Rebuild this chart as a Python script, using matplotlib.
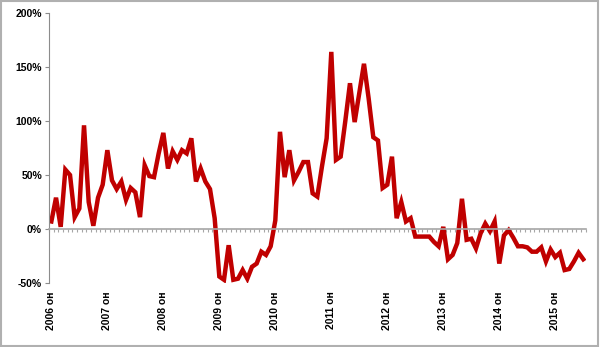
import numpy as np
import matplotlib
matplotlib.use("Agg")
import matplotlib.pyplot as plt
from matplotlib.ticker import FuncFormatter

# monthly values, Jan 2006 .. Jul 2015 (percent)
values = [
    7, 29, 2, 55, 50, 11, 19, 96, 25, 3, 29, 41,
    73, 45, 37, 44, 27, 38, 34, 11, 59, 49, 48, 70,
    89, 56, 72, 64, 73, 70, 84, 44, 56, 44, 37, 10,
    -44, -47, -15, -47, -46, -38, -46, -35, -32, -21, -24, -16,
    8, 90, 48, 73, 45, 53, 62, 62, 33, 30, 58, 84,
    164, 64, 67, 100, 135, 99, 126, 153, 121, 85, 82, 38,
    41, 67, 10, 25, 7, 10, -7, -7, -7, -7, -12, -16,
    2, -28, -24, -13, 28, -10, -9, -18, -4, 5, -2, 7,
    -32, -6, -1, -8, -16, -16, -17, -21, -21, -17, -30, -19,
    -26, -22, -38, -37, -30, -22, -28,
]
years = list(range(2006, 2016))
year_labels = [f"{y} он" for y in years]
y_ticks = [-50, 0, 50, 100, 150, 200]

plt.rcParams['font.family'] = ['Liberation Sans', 'DejaVu Sans']

fig = plt.figure(figsize=(6.0, 3.47), dpi=100)
ax = fig.add_axes([0.0817, 0.1844, 0.8943, 0.7781])

x = np.arange(len(values))
ax.plot(x, values, color='#c00000', lw=3.2, solid_joinstyle='miter')

ax.set_xlim(-0.5, len(values) - 0.5)
ax.set_ylim(-50, 200)

# axes look
for s in ('top', 'right'):
    ax.spines[s].set_visible(False)
ax.spines['left'].set_color('#8c8c8c')
ax.spines['bottom'].set_position(('data', 0))
ax.spines['bottom'].set_color('#a6a6a6')
ax.spines['bottom'].set_linewidth(1.2)

ax.set_yticks(y_ticks)
ax.yaxis.set_major_formatter(FuncFormatter(lambda v, p: f"{int(v)}%"))
ax.tick_params(axis='y', direction='out', length=3, color='#8c8c8c',
               labelsize=7.5, pad=2)
for lbl in ax.get_yticklabels():
    lbl.set_fontweight('bold')

ax.set_xticks([12 * i for i in range(len(years))])
ax.set_xticklabels(year_labels, rotation=90, fontsize=7.5, fontweight='bold',
                   va='top', ha='center')
ax.set_xticks(np.arange(-0.5, len(values), 1), minor=True)
ax.tick_params(axis='x', which='major', length=0, pad=45)
ax.tick_params(axis='x', which='minor', direction='out', length=2.5,
               color='#a6a6a6', width=0.8)

# outer frame
fig.patches.append(plt.Rectangle((0.002, 0.003), 0.995, 0.994, fill=False,
                                 transform=fig.transFigure,
                                 edgecolor='#b0b0b0', lw=1.5))

fig.savefig("out.png", dpi=100)
